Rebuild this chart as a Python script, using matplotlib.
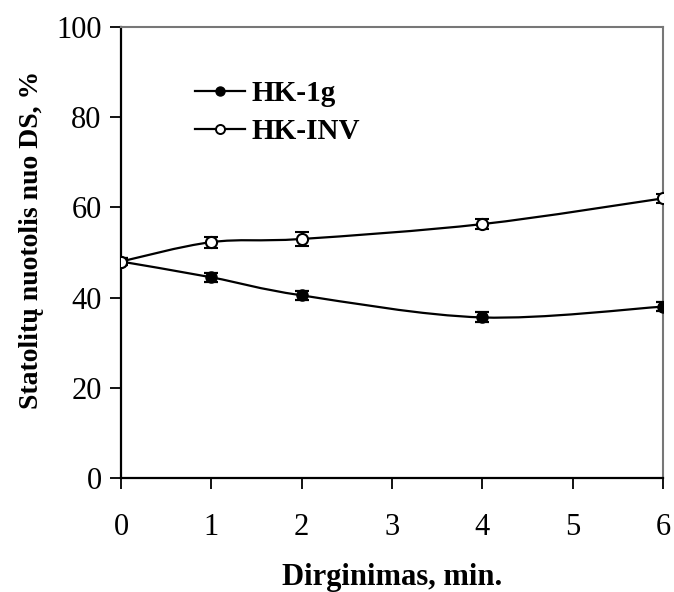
import numpy as np
import matplotlib
matplotlib.use("Agg")
import matplotlib.pyplot as plt
from matplotlib.path import Path
from matplotlib.patches import PathPatch
from matplotlib.lines import Line2D

plt.rcParams['font.family'] = ['Liberation Serif', 'DejaVu Serif']

# Stirring time, min
time_min = [0, 1, 2, 4, 6]
# Statolith displacement from DS, %
hk_1g = [48.0, 44.5, 40.5, 35.6, 38.0]
hk_1g_err = [0.8, 1.0, 1.0, 1.1, 1.0]
hk_inv = [48.0, 52.3, 53.0, 56.3, 62.0]
hk_inv_err = [0.8, 1.2, 1.5, 1.2, 1.0]

series_names = ["HK-1g", "HK-INV"]
x_ticks = [0, 1, 2, 3, 4, 5, 6]
y_ticks = [0, 20, 40, 60, 80, 100]


def smooth_path(xs, ys, tension=1 / 6):
    """Cubic Bezier path through the points (Catmull-Rom style control points)."""
    xs = np.asarray(xs, float)
    ys = np.asarray(ys, float)
    pts = np.column_stack([xs, ys])
    verts = [pts[0]]
    codes = [Path.MOVETO]
    n = len(pts)
    for i in range(n - 1):
        p0 = pts[i - 1] if i > 0 else pts[i]
        p1 = pts[i]
        p2 = pts[i + 1]
        p3 = pts[i + 2] if i + 2 < n else pts[i + 1]
        c1 = p1 + (p2 - p0) * tension
        c2 = p2 - (p3 - p1) * tension
        verts += [c1, c2, p2]
        codes += [Path.CURVE4] * 3
    return Path(verts, codes)


fig = plt.figure(figsize=(6.74, 5.92), dpi=100)
ax = fig.add_axes([121 / 674, 1 - 478 / 592, (663 - 121) / 674, (478 - 27) / 592])

for ys in (hk_1g, hk_inv):
    ax.add_patch(PathPatch(smooth_path(time_min, ys), facecolor='none',
                           edgecolor='black', lw=1.6, zorder=2))

ax.errorbar(time_min, hk_1g, yerr=hk_1g_err, fmt='o', color='black',
            mfc='black', mec='black', ms=8, capsize=5, elinewidth=1.3,
            capthick=1.6, zorder=3)
ax.errorbar(time_min, hk_inv, yerr=hk_inv_err, fmt='o', color='black',
            mfc='white', mec='black', ms=8, mew=1.5, capsize=5,
            elinewidth=1.3, capthick=1.6, zorder=3)

ax.set_xlim(0, 6)
ax.set_ylim(0, 100)
ax.set_xticks(x_ticks)
ax.set_yticks(y_ticks)
ax.tick_params(direction='out', length=8, width=1.3, labelsize=22,
               colors='black')
ax.tick_params(axis='x', pad=17)
ax.tick_params(axis='y', pad=6)
for side in ('left', 'bottom'):
    ax.spines[side].set_linewidth(1.6)
    ax.spines[side].set_color('black')
for side in ('top', 'right'):
    ax.spines[side].set_linewidth(1.5)
    ax.spines[side].set_color('#777777')

ax.set_xlabel('Dirginimas, min.', fontsize=22, fontweight='bold')
ax.xaxis.set_label_coords(0.5, (478 - 563) / 451)
ax.set_ylabel('Statolitų nuotolis nuo DS, %', fontsize=20, fontweight='bold')
ax.yaxis.set_label_coords((44 - 121) / 542, (478 - 240) / 451)

handles = [
    Line2D([], [], color='black', lw=1.6, marker='o', ms=6.5, mfc='black'),
    Line2D([], [], color='black', lw=1.6, marker='o', ms=6.5, mfc='white',
           mew=1.4),
]
ax.legend(handles, series_names, loc='upper left',
          bbox_to_anchor=((195 - 121) / 542, (478 - 80) / 451),
          frameon=False, borderpad=0, borderaxespad=0,
          prop={'size': 21, 'weight': 'bold'}, handlelength=1.7,
          handletextpad=0.25, labelspacing=0.37)

fig.savefig('out.png', dpi=100)
